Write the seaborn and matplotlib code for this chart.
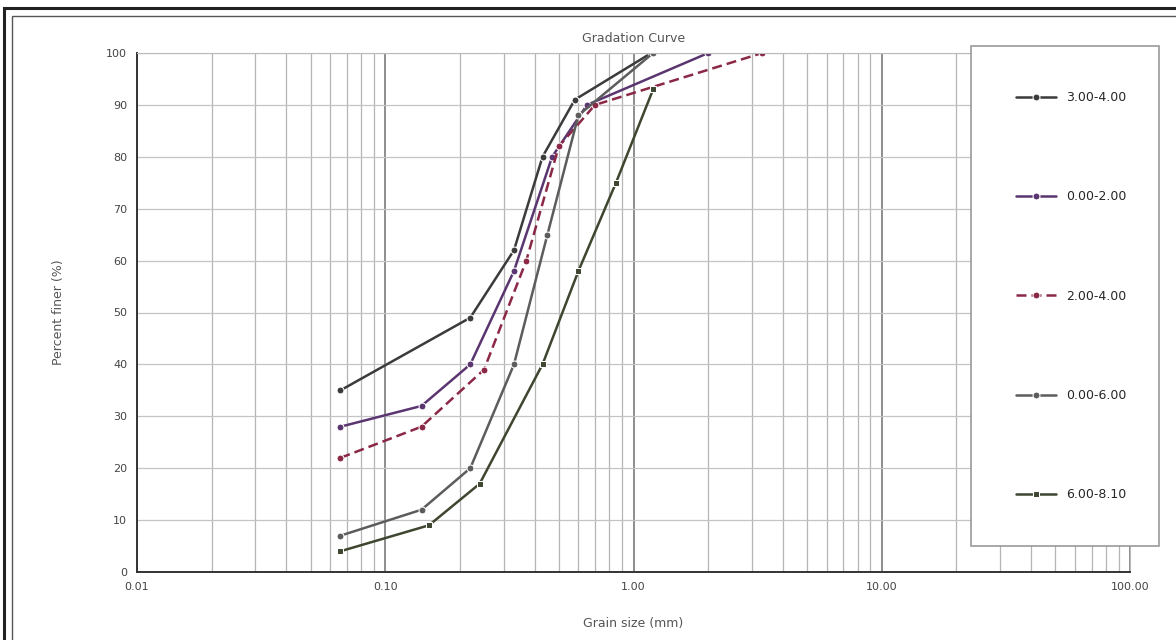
import matplotlib
matplotlib.use("Agg")
import matplotlib.pyplot as plt
import matplotlib.ticker as mticker
from matplotlib.patches import Rectangle
import seaborn as sns
import pandas as pd

# ---- data ----
series_names = ["3.00-4.00", "0.00-2.00", "2.00-4.00", "0.00-6.00", "6.00-8.10"]

s1_size = [0.066, 0.22, 0.33, 0.43, 0.58, 1.18]
s1_pass = [35, 49, 62, 80, 91, 100]

s2_size = [0.066, 0.14, 0.22, 0.33, 0.47, 0.65, 2.0]
s2_pass = [28, 32, 40, 58, 80, 90, 100]

s3_size = [0.066, 0.14, 0.25, 0.37, 0.5, 0.7, 3.3]
s3_pass = [22, 28, 39, 60, 82, 90, 100]

s4_size = [0.066, 0.14, 0.22, 0.33, 0.45, 0.6, 1.2]
s4_pass = [7, 12, 20, 40, 65, 88, 100]

s5_size = [0.066, 0.15, 0.24, 0.43, 0.6, 0.85, 1.2]
s5_pass = [4, 9, 17, 40, 58, 75, 93]

x_ticks = [0.01, 0.1, 1, 10, 100]
x_tick_labels = ["0.01", "0.10", "1.00", "10.00", "100.00"]
y_ticks = list(range(0, 101, 10))

colors = ["#3b3b3b", "#5a3570", "#8a2846", "#5c5c5c", "#3f4630"]
dash_styles = ["", "", (4, 2), "", ""]
marker_styles = ["o", "o", "o", "o", "s"]

rows = []
for name, xs, ys in zip(series_names,
                        [s1_size, s2_size, s3_size, s4_size, s5_size],
                        [s1_pass, s2_pass, s3_pass, s4_pass, s5_pass]):
    for x, y in zip(xs, ys):
        rows.append({"size": x, "pass": y, "series": name})
df = pd.DataFrame(rows)

sns.set_style("white")
plt.rcParams['font.family'] = ['DejaVu Sans']

fig = plt.figure(figsize=(11.76, 6.40), dpi=100)
ax = fig.add_axes([137/1176, 1-572/640, (1130-137)/1176, (572-53)/640])

sns.lineplot(data=df, x="size", y="pass", hue="series", style="series",
             palette=dict(zip(series_names, colors)),
             dashes=dict(zip(series_names, dash_styles)),
             markers=dict(zip(series_names, marker_styles)),
             markersize=5, linewidth=1.8, sort=True, estimator=None,
             ax=ax, legend=True)

ax.set_xscale("log")
ax.set_xlim(0.01, 100)
ax.set_ylim(0, 100)
ax.set_xticks(x_ticks)
ax.set_xticklabels(x_tick_labels)
ax.set_yticks(y_ticks)
ax.set_yticklabels([str(v) for v in y_ticks])
ax.xaxis.set_minor_locator(mticker.LogLocator(base=10, subs=range(2, 10)))
ax.xaxis.set_minor_formatter(mticker.NullFormatter())
ax.tick_params(axis="both", labelsize=8, colors="#444444")
ax.tick_params(axis="x", which="major", length=4)
ax.tick_params(axis="x", which="minor", length=0)

ax.grid(which="major", axis="x", color="#6f6f6f", linewidth=1.1)
ax.grid(which="minor", axis="x", color="#b5b5b5", linewidth=0.9)
ax.grid(which="major", axis="y", color="#c4c4c4", linewidth=0.9)
ax.set_axisbelow(True)

for side in ["left", "bottom"]:
    ax.spines[side].set_color("#333333")
    ax.spines[side].set_linewidth(1.4)
for side in ["top", "right"]:
    ax.spines[side].set_color("#bbbbbb")
    ax.spines[side].set_linewidth(0.8)

ax.set_title("Gradation Curve", fontsize=9, color="#555555", pad=8)
ax.set_xlabel("Grain size (mm)", fontsize=9, color="#555555", labelpad=18)
ax.set_ylabel("Percent finer (%)", fontsize=9, color="#555555", labelpad=30)

handles, labels = ax.get_legend_handles_labels()
ax.get_legend().remove()
leg = fig.legend(handles, labels, loc="upper left",
                 bbox_to_anchor=(965/1176, 1-545/640, 200/1176, 505/640),
                 mode="expand", fontsize=9, labelspacing=6.9,
                 borderpad=3.6, handlelength=3.2, frameon=True,
                 fancybox=False, edgecolor="#999999", framealpha=1)
leg.get_frame().set_linewidth(1.2)

# outer frame of the sheet
fig.patches.append(Rectangle((4/1176, -0.05), 1.2, 1-8/640 + 0.05,
                             transform=fig.transFigure, fill=False,
                             edgecolor="#222222", linewidth=2.2))
fig.patches.append(Rectangle((12/1176, -0.05), 1.2, 1-16/640 + 0.05,
                             transform=fig.transFigure, fill=False,
                             edgecolor="#555555", linewidth=1.0))

fig.savefig("out.png", dpi=100)
